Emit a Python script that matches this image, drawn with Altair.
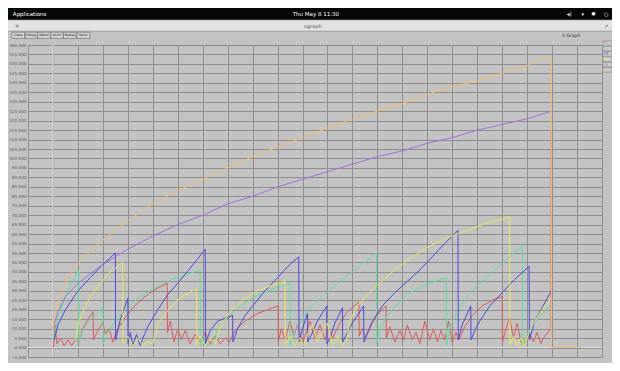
import altair as alt
import pandas as pd

# ---------------- data ----------------
series_names = ["P1", "P2", "P3", "P4", "P5", "P6"]
series_colors = ["#e05a5a", "#5ee0a0", "#4a4ae0", "#e6e65a", "#a070e0", "#f0be6e"]

red_pts = [(0.2, 0), (0.8, 12), (1.6, 2), (3, 5), (4.5, 1), (6, 4), (7.5, 1), (9, 4), (10.3, 3),
           (12, 10), (14, 15), (16.1, 19), (16.2, 4), (18, 9), (20, 13), (21, 7), (22.5, 10), (24, 3),
           (26, 10), (29, 16), (32, 21), (36, 26), (40, 30), (45.8, 34), (45.9, 8), (47, 14), (48.5, 3),
           (50, 10), (51.5, 4), (53, 9), (55, 2), (57, 7), (59, 3), (61, 8), (63, 2), (65, 6), (67, 2),
           (69, 5), (70.7, 3), (73, 9), (77, 14), (82, 18), (86, 20), (90.2, 22), (90.3, 3), (91.5, 10),
           (93, 4), (95, 14), (96.5, 6), (98, 12), (100, 3), (101.5, 8), (103, 14), (105, 5), (107, 12),
           (109, 4), (110.5, 10), (112, 5), (115, 13), (118, 19), (122.6, 24), (122.7, 6), (124, 10),
           (125.3, 5), (128, 13), (131, 19), (133.5, 22), (133.6, 5), (135, 11), (137, 3), (139, 9),
           (140.5, 4), (142, 12), (144, 4), (145.5, 8), (147, 2), (149, 14), (151, 4), (152.5, 10),
           (154, 3), (155.5, 9), (157, 4), (158.5, 14), (160, 3), (161.5, 8), (162.7, 4), (165, 11),
           (168, 17), (172, 22), (176, 25), (180, 27), (180.1, 3), (181.5, 10), (183, 16), (184.5, 5),
           (186, 13), (187.5, 3), (189, 2), (191, 7), (192.5, 3), (194, 8), (195.5, 2), (197, 6),
           (199.6, 10), (199.7, 115)]

green_pts = [(0, 4), (2, 16), (5, 27), (8, 35), (10.3, 41), (10.4, 3), (12, 9), (15, 15), (20, 21),
             (20.1, 2), (22, 8), (25, 14), (29, 20), (34, 26), (40, 31), (46, 35), (52, 38), (59, 41),
             (59.1, 1), (60.5, 6), (62, 1), (64, 2), (66, 10), (70, 16), (75, 22), (81, 27), (88, 31),
             (95, 34), (95.1, 1), (97, 9), (100, 15), (103, 21), (108, 27), (114, 34), (121, 41),
             (129.6, 50), (129.7, 2), (131, 10), (134, 17), (138, 23), (143, 29), (149, 33), (157.6, 37),
             (157.7, 1), (159, 11), (162, 19), (166, 27), (171, 34), (176, 40), (182, 47), (188.1, 54),
             (188.2, 1), (190, 7), (193, 13), (196, 18), (199.7, 23)]

blue_pts = [(0.5, 4), (2, 12), (5, 20), (10, 30), (15, 37), (20, 44), (25, 50), (25.1, 4), (27, 15),
            (30, 26), (30.1, 2), (31, 8), (32, 1), (33.5, 7), (35, 1), (36, 5), (38, 11), (42, 20),
            (46, 28), (50, 34), (55, 42), (61, 52), (61.1, 2), (63, 9), (66, 14), (72, 17), (72.1, 3),
            (74, 10), (77, 17), (80, 22), (85, 30), (90, 37), (95, 44), (98.5, 48), (98.6, 3), (100, 10),
            (102, 18), (102.1, 3), (104, 8), (106, 14), (109.7, 22), (109.8, 2), (111, 5), (113, 13),
            (116, 21), (116.1, 3), (118, 8), (120, 13), (124.5, 22), (124.6, 3), (126, 8), (128, 14),
            (132, 22), (137, 29), (142, 35), (147, 41), (152, 48), (157, 55), (162.3, 62), (162.4, 4),
            (164, 12), (167.4, 22), (167.5, 4), (169, 9), (171, 14), (175, 22), (180, 29), (185, 36),
            (190.8, 43), (190.9, 4), (192, 9), (193, 14), (196, 21), (199.7, 30)]

yellow_pts = [(9, 3), (10, 12), (12, 19), (15, 27), (19, 34), (23, 40), (27.9, 45), (28, 2), (30, 6),
              (32, 1), (34, 5), (36, 1), (38, 3), (40, 2), (42, 12), (45, 18), (49, 24), (53, 28),
              (57.5, 31), (57.6, 1), (59, 6), (61, 1), (63, 5), (65, 2), (67, 11), (71, 19), (76, 25),
              (82, 30), (88, 33), (93, 35), (93.1, 1), (95, 6), (97, 1), (99, 5), (100.5, 1), (102, 7),
              (104, 12), (106, 3), (108, 8), (110, 13), (112, 1), (114, 6), (116, 1), (117.5, 3),
              (119, 14), (122, 22), (126, 28), (130, 33), (136, 40), (143, 47), (150, 53), (158, 58),
              (166, 62), (174, 66), (183, 69), (183.1, 1), (184.5, 6), (186, 1), (187.5, 5), (189, 1),
              (191, 9), (194, 16), (197, 22), (199.7, 26)]

purple_pts = [(0, 10), (2, 19), (5, 27), (10, 34), (20, 44), (30, 52), (40, 59), (50, 65), (60, 70),
              (70, 76), (80, 80), (90, 85), (100, 89), (110, 93), (120, 97), (130, 101), (140, 104),
              (150, 108), (160, 111), (170, 115), (180, 118), (190, 121), (199.7, 125)]

orange_pts = [(0, 10), (1, 19), (3, 28), (6, 37), (10, 44), (15, 51), (20, 57), (30, 67), (40, 76),
              (50, 83), (60, 89), (70, 95), (80, 101), (90, 106), (100, 111), (110, 116), (120, 121),
              (130, 125), (140, 129), (150, 134), (160, 138), (170, 141), (180, 145), (190, 149),
              (196, 153), (199.7, 153), (199.8, 0), (212, 0)]

x_grid = list(range(-10, 221, 10))
y_grid = list(range(-5, 161, 5))
zero_x = [0]
zero_y = [0]

buttons = ["Close", "Hdcpy", "About", "Anim", "Replay", "Deriv"]
top_left_text = "Applications"
clock_text = "Thu May  8  11:30"
window_title = "xgraph"
graph_title = "X Graph"

# ---------------- tables ----------------
rows = []
for name, pts in zip(series_names, [red_pts, green_pts, blue_pts, yellow_pts, purple_pts, orange_pts]):
    for i, (xv, yv) in enumerate(pts):
        rows.append({"s": name, "x": xv, "y": yv, "i": i})
df = pd.DataFrame(rows)

# ---------------- layout ----------------
W, H = 574, 312
L, T = 20, 37
R = 604 - L - W
B = 355 - T - H
SX = 604 / 620
SY = 355 / 364


def cx(x):
    return round(SX * x - L, 2)


def cy(y):
    return round(SY * (y - 7) - T, 2)


rects = [
    (0, 620, 7, 19.5, "#060606", "#060606"),
    (0, 620, 19.5, 30.5, "#e3e3e3", "#e3e3e3"),
    (0, 620, 30.5, 31.2, "#a6a6a6", "#a6a6a6"),
]
btn_x = [(4, 17), (17.5, 30), (30.5, 43.5), (44, 56.5), (57, 70), (71, 84)]
for (a, b) in btn_x:
    rects.append((a, b, 31.8, 38.3, "#d0d0d0", "#6a6a6a"))
leg_y = [43, 48.5, 54, 59.5, 65, 70.5]
for yy in leg_y:
    rects.append((610.5, 620, yy - 2.3, yy + 2.3, "#cdcdcd", "#8a8a8a"))
rect_df = pd.DataFrame([{"px": cx(a), "px2": cx(b), "py": cy(c), "py2": cy(d), "f": f, "k": k}
                        for (a, b, c, d, f, k) in rects])

texts_left = [(5, 13.5, top_left_text, 5.5, "#ffffff"), (7, 25, "×", 6, "#555555")]
texts_center = [(316, 13.5, clock_text, 5.5, "#ffffff"), (313, 25.2, window_title, 5, "#555555"),
                (578, 36, graph_title, 4.5, "#333333"),
                (576, 13.5, "◂)", 5.5, "#ffffff"), (590, 13.5, "▾", 5, "#ffffff"),
                (601, 13.5, "●", 4.5, "#ffffff"), (614, 13.5, "○", 5, "#ffffff"),
                (614, 25, "↗", 5, "#555555")]
for (a, b), lab in zip(btn_x, buttons):
    texts_center.append(((a + b) / 2, 35.1, lab, 3.2, "#222222"))
for yy, nm, col in zip(leg_y, series_names, series_colors):
    texts_left.append((611.5, yy, nm, 3.6, col))


def tdf(items):
    return pd.DataFrame([{"px": cx(a), "py": cy(b), "t": t, "fs": s, "c": c} for (a, b, t, s, c) in items])


# ---------------- chart ----------------
xs = alt.Scale(domain=[-10, 220], nice=False, zero=False)
ys = alt.Scale(domain=[-5, 160], nice=False, zero=False)

chrome = alt.Chart(rect_df).mark_rect(strokeWidth=0.6).encode(
    x=alt.X("px:Q", scale=None), x2="px2:Q",
    y=alt.Y("py:Q", scale=None), y2="py2:Q",
    fill=alt.Fill("f:N", scale=None), stroke=alt.Stroke("k:N", scale=None))


def text_layer(items, align):
    return alt.Chart(tdf(items)).mark_text(align=align, baseline="middle", font="DejaVu Sans").encode(
        x=alt.X("px:Q", scale=None), y=alt.Y("py:Q", scale=None), text="t:N",
        size=alt.Size("fs:Q", scale=None), color=alt.Color("c:N", scale=None))


zx = alt.Chart(pd.DataFrame({"x": zero_x})).mark_rule(color="#e4e4e4", strokeWidth=1).encode(
    x=alt.X("x:Q", scale=xs))
zy = alt.Chart(pd.DataFrame({"y": zero_y})).mark_rule(color="#e4e4e4", strokeWidth=1).encode(
    y=alt.Y("y:Q", scale=ys))

lines = alt.Chart(df).mark_line(strokeWidth=1).encode(
    x=alt.X("x:Q", scale=xs, axis=alt.Axis(values=x_grid, tickCount=len(x_grid), grid=True,
                                           labels=False, ticks=False, domain=False, title=None,
                                           gridColor="#8e8e8e", gridWidth=1)),
    y=alt.Y("y:Q", scale=ys, axis=alt.Axis(values=y_grid, tickCount=len(y_grid), grid=True,
                                           ticks=False, domain=False, title=None, format=".3f",
                                           labelFontSize=4.2, labelFont="DejaVu Sans",
                                           labelColor="#5a5a5a", labelPadding=2, labelFlush=False,
                                           labelOverlap=False, gridColor="#8e8e8e", gridWidth=1)),
    color=alt.Color("s:N", scale=alt.Scale(domain=series_names, range=series_colors), legend=None),
    detail="s:N",
    order=alt.Order("i:Q"))

chart = alt.layer(chrome, text_layer(texts_left, "left"), text_layer(texts_center, "center"),
                  zx, zy, lines).properties(
    width=W, height=H,
    autosize=alt.AutoSizeParams(type="none"),
    padding={"left": L, "top": T, "right": R, "bottom": B},
    background="#c3c3c3",
).configure_view(stroke=None)

chart.save("out.html", embed_options={"renderer": "svg", "actions": False})
